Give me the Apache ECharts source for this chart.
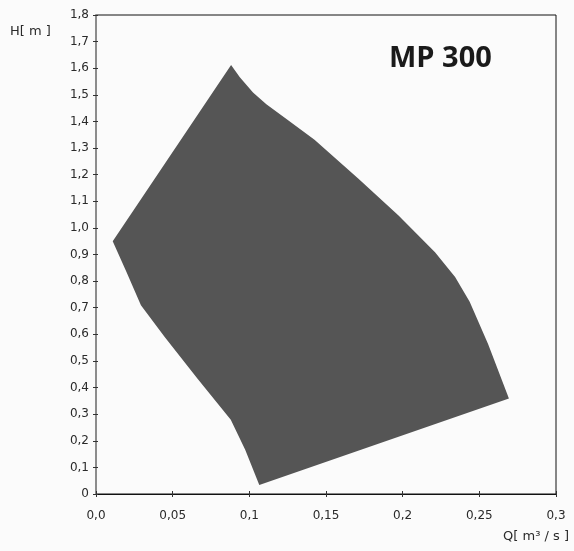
<!DOCTYPE html>
<html>
<head>
<meta charset="utf-8">
<script src="https://cdn.jsdelivr.net/npm/echarts@6/dist/echarts.min.js"></script>
<style>html,body{margin:0;padding:0;background:#fbfbfb;}#c{width:574px;height:551px;}</style>
</head>
<body>
<div id="c"></div>
<script>
// Operating field outline of MP 300 (clockwise from the top point)
var qValues = [0.0881, 0.0938, 0.1024, 0.1111, 0.1242, 0.1425, 0.1710, 0.1973, 0.2211, 0.2342, 0.2437, 0.2557, 0.2693,
               0.1065, 0.0973, 0.0879, 0.0665, 0.0448, 0.0293, 0.0198, 0.0109];
var hValues = [1.612, 1.566, 1.509, 1.465, 1.409, 1.331, 1.186, 1.047, 0.908, 0.815, 0.722, 0.564, 0.359,
               0.034, 0.166, 0.279, 0.431, 0.590, 0.709, 0.835, 0.950];
var xTickValues = [0, 0.05, 0.1, 0.15, 0.2, 0.25, 0.3];
var xTickLabels = ['0,0', '0,05', '0,1', '0,15', '0,2', '0,25', '0,3'];
var yTickLabels = ['0', '0,1', '0,2', '0,3', '0,4', '0,5', '0,6', '0,7', '0,8', '0,9',
                   '1,0', '1,1', '1,2', '1,3', '1,4', '1,5', '1,6', '1,7', '1,8'];
var titleText = 'MP 300';

var chart = echarts.init(document.getElementById('c'));
var labelFont = {fontFamily: 'DejaVu Sans', fontSize: 12, color: '#2a2a2a'};
function xFmt(v) {
  for (var i = 0; i < xTickValues.length; i++) if (Math.abs(v - xTickValues[i]) < 1e-6) return xTickLabels[i];
  return '';
}
function yFmt(v) { return yTickLabels[Math.round(v * 10)] || ''; }
var points = qValues.map(function (q, i) { return [q, hValues[i]]; });

chart.setOption({
  backgroundColor: '#fbfbfb',
  animation: false,
  grid: {left: 96, right: 18, top: 15, bottom: 57, show: true, borderColor: '#111', borderWidth: 1, backgroundColor: 'transparent'},
  xAxis: [{
    type: 'value', min: 0, max: 0.3, interval: 0.05, position: 'bottom',
    axisLine: {show: true, lineStyle: {color: '#111', width: 1}},
    axisTick: {show: true, inside: false, length: 3, lineStyle: {color: '#333'}},
    axisLabel: Object.assign({formatter: xFmt, margin: 16, showMaxLabel: true, showMinLabel: true}, labelFont),
    splitLine: {show: false}
  }, {
    type: 'value', min: 0, max: 0.3, interval: 0.05, position: 'bottom',
    axisLine: {show: false},
    axisTick: {show: true, inside: true, length: 3, lineStyle: {color: '#333'}},
    axisLabel: {show: false}, splitLine: {show: false}
  }],
  yAxis: [{
    type: 'value', min: 0, max: 1.8, interval: 0.1, position: 'left',
    axisLine: {show: true, lineStyle: {color: '#8c8c8c', width: 2}},
    axisTick: {show: true, inside: false, length: 3, lineStyle: {color: '#333'}},
    axisLabel: Object.assign({formatter: yFmt, margin: 7}, labelFont),
    splitLine: {show: false}
  }, {
    type: 'value', min: 0, max: 1.8, interval: 0.1, position: 'left',
    axisLine: {show: false},
    axisTick: {show: true, inside: true, length: 2, lineStyle: {color: '#333'}},
    axisLabel: {show: false}, splitLine: {show: false}
  }],
  series: [{
    type: 'custom',
    xAxisIndex: 0, yAxisIndex: 0,
    data: points,
    renderItem: function (params, api) {
      if (params.dataIndex !== 0) return null;
      var pts = points.map(function (p) { return api.coord(p); });
      return {type: 'polygon', shape: {points: pts}, style: {fill: '#555555', stroke: null}};
    }
  }],
  graphic: [
    {type: 'text', left: 10, top: 25, style: {text: 'H[ m ]', fontFamily: 'DejaVu Sans', fontSize: 13, fill: '#2a2a2a'}},
    {type: 'text', right: 5, top: 530, style: {text: 'Q[ m³ / s ]', fontFamily: 'DejaVu Sans', fontSize: 13, fill: '#2a2a2a'}},
    {type: 'text', left: 389, top: 44, style: {text: titleText, fontFamily: 'Open Sans', fontWeight: 'bold', fontSize: 29, fill: '#1a1a1a'}}
  ]
});
</script>
</body>
</html>
